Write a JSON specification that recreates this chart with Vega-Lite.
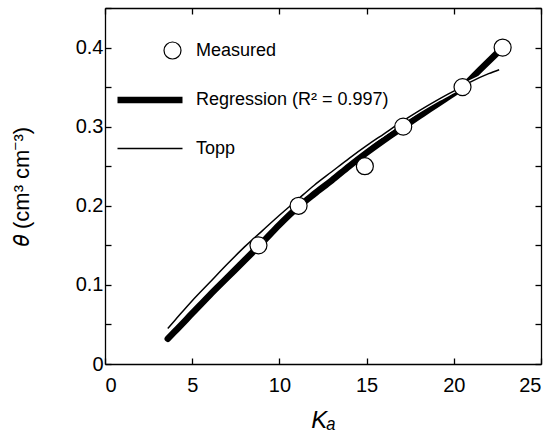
{
  "$schema": "https://vega.github.io/schema/vega-lite/v6.json",
  "width": 436,
  "height": 356,
  "autosize": {"type": "none"},
  "padding": {"left": 105, "top": 8, "right": 14, "bottom": 77},
  "background": "white",
  "config": {
    "view": {"stroke": null},
    "font": "Liberation Sans",
    "axis": {
      "grid": false,
      "domainColor": "black",
      "domainWidth": 1.3,
      "tickColor": "black",
      "tickWidth": 1.3,
      "tickSize": -6,
      "labelFont": "Liberation Sans",
      "labelFontSize": 20,
      "labelColor": "black",
      "titleFont": "Liberation Sans",
      "titleFontWeight": "normal",
      "titleColor": "black"
    },
    "legend": {
      "labelFont": "Liberation Sans",
      "labelFontSize": 18,
      "labelColor": "black",
      "labelLimit": 400,
      "symbolStrokeColor": "black",
      "symbolFillColor": "white",
      "symbolOpacity": 1,
      "symbolSize": 4225,
      "labelOffset": 10
    }
  },
  "datasets": {
    "curves": [
      {"series": "Regression (R² = 0.997)", "Ka": 3.6, "theta": 0.032},
      {"series": "Regression (R² = 0.997)", "Ka": 4, "theta": 0.041},
      {"series": "Regression (R² = 0.997)", "Ka": 5, "theta": 0.064},
      {"series": "Regression (R² = 0.997)", "Ka": 6, "theta": 0.087},
      {"series": "Regression (R² = 0.997)", "Ka": 7, "theta": 0.109},
      {"series": "Regression (R² = 0.997)", "Ka": 8, "theta": 0.131},
      {"series": "Regression (R² = 0.997)", "Ka": 9, "theta": 0.153},
      {"series": "Regression (R² = 0.997)", "Ka": 10, "theta": 0.176},
      {"series": "Regression (R² = 0.997)", "Ka": 11, "theta": 0.197},
      {"series": "Regression (R² = 0.997)", "Ka": 12, "theta": 0.215},
      {"series": "Regression (R² = 0.997)", "Ka": 13, "theta": 0.232},
      {"series": "Regression (R² = 0.997)", "Ka": 14, "theta": 0.250},
      {"series": "Regression (R² = 0.997)", "Ka": 15, "theta": 0.267},
      {"series": "Regression (R² = 0.997)", "Ka": 16, "theta": 0.283},
      {"series": "Regression (R² = 0.997)", "Ka": 17, "theta": 0.298},
      {"series": "Regression (R² = 0.997)", "Ka": 18, "theta": 0.313},
      {"series": "Regression (R² = 0.997)", "Ka": 18.6, "theta": 0.322},
      {"series": "Regression (R² = 0.997)", "Ka": 19.5, "theta": 0.335},
      {"series": "Regression (R² = 0.997)", "Ka": 20.5, "theta": 0.350},
      {"series": "Regression (R² = 0.997)", "Ka": 21.5, "theta": 0.372},
      {"series": "Regression (R² = 0.997)", "Ka": 22.8, "theta": 0.400},
      {"series": "Topp", "Ka": 3.6, "theta": 0.045},
      {"series": "Topp", "Ka": 4, "theta": 0.055},
      {"series": "Topp", "Ka": 5, "theta": 0.080},
      {"series": "Topp", "Ka": 6, "theta": 0.103},
      {"series": "Topp", "Ka": 7, "theta": 0.126},
      {"series": "Topp", "Ka": 8, "theta": 0.148},
      {"series": "Topp", "Ka": 9, "theta": 0.168},
      {"series": "Topp", "Ka": 10, "theta": 0.188},
      {"series": "Topp", "Ka": 11, "theta": 0.207},
      {"series": "Topp", "Ka": 12, "theta": 0.226},
      {"series": "Topp", "Ka": 13, "theta": 0.243},
      {"series": "Topp", "Ka": 14, "theta": 0.260},
      {"series": "Topp", "Ka": 15, "theta": 0.276},
      {"series": "Topp", "Ka": 16, "theta": 0.291},
      {"series": "Topp", "Ka": 17, "theta": 0.306},
      {"series": "Topp", "Ka": 18, "theta": 0.320},
      {"series": "Topp", "Ka": 19, "theta": 0.333},
      {"series": "Topp", "Ka": 20, "theta": 0.345},
      {"series": "Topp", "Ka": 21, "theta": 0.357},
      {"series": "Topp", "Ka": 22, "theta": 0.367},
      {"series": "Topp", "Ka": 22.6, "theta": 0.372}
    ],
    "measured": [
      {"series": "Measured", "Ka": 8.8, "theta": 0.15},
      {"series": "Measured", "Ka": 11.1, "theta": 0.20},
      {"series": "Measured", "Ka": 14.9, "theta": 0.25},
      {"series": "Measured", "Ka": 17.1, "theta": 0.30},
      {"series": "Measured", "Ka": 20.5, "theta": 0.35},
      {"series": "Measured", "Ka": 22.8, "theta": 0.40}
    ]
  },
  "resolve": {"axis": {"x": "independent", "y": "independent"}},
  "layer": [
    {
      "data": {"name": "curves"},
      "transform": [{"filter": "datum.series !== 'Topp'"}],
      "mark": {"type": "line", "color": "black", "strokeCap": "round", "interpolate": "monotone"},
      "encoding": {
        "x": {"field": "Ka", "type": "quantitative", "scale": {"domain": [0, 25], "nice": false},
              "axis": {"orient": "top", "values": [0, 5, 10, 15, 20, 25], "labels": false, "title": null}},
        "y": {"field": "theta", "type": "quantitative", "scale": {"domain": [0, 0.45], "nice": false, "zero": false},
              "axis": {"orient": "right", "values": [0, 0.05, 0.1, 0.15, 0.2, 0.25, 0.3, 0.35, 0.4, 0.45], "labels": false, "title": null}},
        "strokeWidth": {"field": "series", "type": "nominal",
          "scale": {"type": "ordinal", "domain": ["Measured", "Regression (R² = 0.997)", "Topp"], "range": [1.2, 6.5, 1.5]},
          "legend": {"orient": "none", "legendX": 9, "legendY": 9, "title": null,
                     "encode": {"symbols": {"update": {"stroke": {"value": "black"}}}}}}
      }
    },
    {
      "data": {"name": "curves"},
      "transform": [{"filter": "datum.series === 'Topp'"}],
      "mark": {"type": "line", "color": "white", "strokeWidth": 4, "interpolate": "monotone"},
      "encoding": {
        "x": {"field": "Ka", "type": "quantitative", "axis": null},
        "y": {"field": "theta", "type": "quantitative", "axis": null}
      }
    },
    {
      "data": {"name": "curves"},
      "transform": [{"filter": "datum.series === 'Topp'"}],
      "mark": {"type": "line", "color": "black", "interpolate": "monotone"},
      "encoding": {
        "x": {"field": "Ka", "type": "quantitative", "axis": null},
        "y": {"field": "theta", "type": "quantitative", "axis": null},
        "strokeWidth": {"field": "series", "type": "nominal",
          "scale": {"type": "ordinal", "domain": ["Measured", "Regression (R² = 0.997)", "Topp"], "range": [1.2, 6.5, 1.5]}}
      }
    },
    {
      "data": {"name": "measured"},
      "mark": {"type": "point", "shape": "circle", "size": 289, "strokeWidth": 1.2, "filled": true, "fill": "white", "stroke": "black", "opacity": 1},
      "encoding": {
        "x": {"field": "Ka", "type": "quantitative",
              "axis": {"orient": "bottom", "values": [0, 5, 10, 15, 20, 25], "labelPadding": 17,
                       "title": "Kₐ", "titleFontSize": 24, "titleFontStyle": "italic", "titlePadding": 13}},
        "y": {"field": "theta", "type": "quantitative",
              "axis": {"orient": "left", "values": [0, 0.05, 0.1, 0.15, 0.2, 0.25, 0.3, 0.35, 0.4, 0.45],
                       "labelExpr": "round(datum.value * 20) % 2 === 0 ? (datum.value === 0 ? '0' : format(datum.value, '.1f')) : ''",
                       "labelPadding": 8, "title": "𝜃 (cm³ cm⁻³)", "titleFontSize": 22, "titlePadding": 42}}
      }
    },
    {
      "data": {"name": "measured"},
      "transform": [{"filter": "false"}],
      "mark": {"type": "point", "filled": true, "fill": "white", "stroke": "black", "opacity": 1},
      "encoding": {
        "x": {"field": "Ka", "type": "quantitative", "axis": null},
        "y": {"field": "theta", "type": "quantitative", "axis": null},
        "shape": {"field": "series", "type": "nominal",
          "scale": {"domain": ["Measured", "Regression (R² = 0.997)", "Topp"],
                    "range": ["M0.954,0A0.2615,0.2615,0,1,1,0.431,0A0.2615,0.2615,0,1,1,0.954,0Z", "stroke", "stroke"]},
          "legend": {"orient": "none", "legendX": 9, "legendY": 9, "title": null,
                     "encode": {"symbols": {"update": {"stroke": {"value": "black"}}}}}},
        "strokeWidth": {"field": "series", "type": "nominal",
          "scale": {"type": "ordinal", "domain": ["Measured", "Regression (R² = 0.997)", "Topp"], "range": [1.2, 6.5, 1.5]}}
      }
    }
  ]
}
